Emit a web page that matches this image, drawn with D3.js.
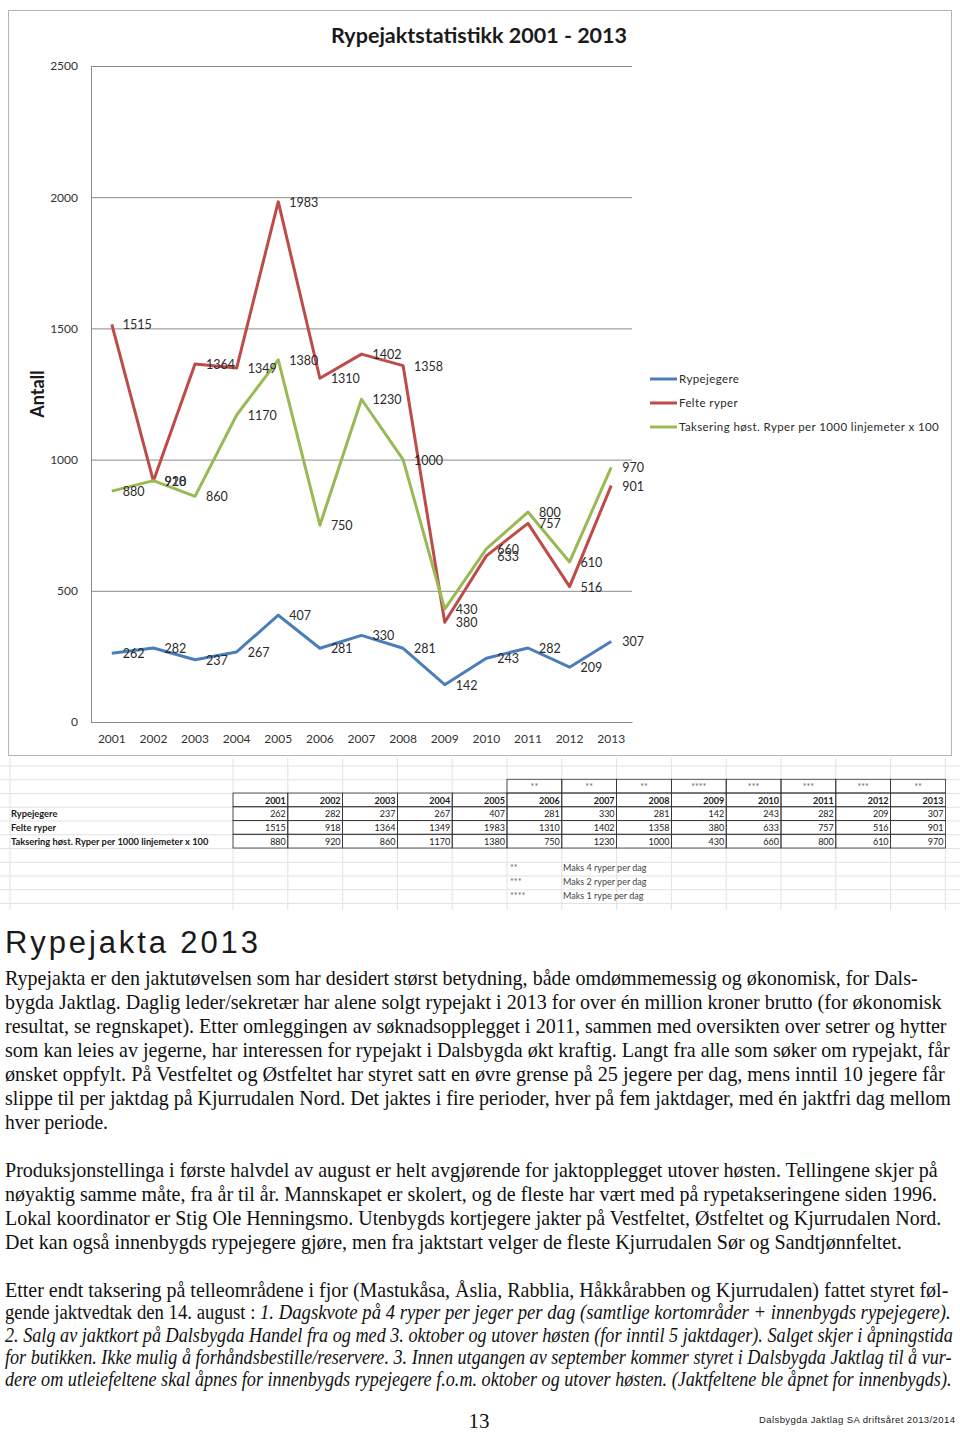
<!DOCTYPE html>
<html>
<head>
<meta charset="utf-8">
<script src="https://cdn.jsdelivr.net/npm/d3@7/dist/d3.min.js"></script>
<style>
  body { margin: 0; background: #fff; }
  svg { display: block; }
</style>
</head>
<body>
<svg id="page"></svg>
<script>
// chart data
const years = ["2001", "2002", "2003", "2004", "2005", "2006", "2007", "2008", "2009", "2010", "2011", "2012", "2013"];
const rypejegere = [262, 282, 237, 267, 407, 281, 330, 281, 142, 243, 282, 209, 307];
const felteRyper = [1515, 918, 1364, 1349, 1983, 1310, 1402, 1358, 380, 633, 757, 516, 901];
const taksering = [880, 920, 860, 1170, 1380, 750, 1230, 1000, 430, 660, 800, 610, 970];
const seriesNames = ["Rypejegere", "Felte ryper", "Taksering høst. Ryper per 1000 linjemeter x 100"];
const seriesColors = ["#4a7ebb", "#be4b48", "#98b954"];
const yTicks = [0, 500, 1000, 1500, 2000, 2500];
const kvoteMarks = ["", "", "", "", "", "**", "**", "**", "****", "***", "***", "***", "**"];
const noteMarks = ["**", "***", "****"];
const noteTexts = ["Maks 4 ryper per dag", "Maks 2 ryper per dag", "Maks 1 rype per dag"];

// article text, one entry per printed line: [segments, width]
const para1 = [
  [[["Rypejakta er den jaktutøvelsen som har desidert størst betydning, både omdømmemessig og økonomisk, for Dals-", 0]], 913],
  [[["bygda Jaktlag. Daglig leder/sekretær har alene solgt rypejakt i 2013 for over én million kroner brutto (for økonomisk", 0]], 937],
  [[["resultat, se regnskapet). Etter omleggingen av søknadsopplegget i 2011, sammen med oversikten over setrer og hytter", 0]], 942],
  [[["som kan leies av jegerne, har interessen for rypejakt i Dalsbygda økt kraftig. Langt fra alle som søker om rypejakt, får", 0]], 945],
  [[["ønsket oppfylt. På Vestfeltet og Østfeltet har styret satt en øvre grense på 25 jegere per dag, mens inntil 10 jegere får", 0]], 940],
  [[["slippe til per jaktdag på Kjurrudalen Nord. Det jaktes i fire perioder, hver på fem jaktdager, med én jaktfri dag mellom", 0]], 946],
  [[["hver periode.", 0]], 103]
];
const para2 = [
  [[["Produksjonstellinga i første halvdel av august er helt avgjørende for jaktopplegget utover høsten. Tellingene skjer på", 0]], 933],
  [[["nøyaktig samme måte, fra år til år. Mannskapet er skolert, og de fleste har vært med på rypetakseringene siden 1996.", 0]], 932],
  [[["Lokal koordinator er Stig Ole Henningsmo. Utenbygds kortjegere jakter på Vestfeltet, Østfeltet og Kjurrudalen Nord.", 0]], 937],
  [[["Det kan også innenbygds rypejegere gjøre, men fra jaktstart velger de fleste Kjurrudalen Sør og Sandtjønnfeltet.", 0]], 897]
];
const para3 = [
  [[["Etter endt taksering på telleområdene i fjor (Mastukåsa, Åslia, Rabblia, Håkkårabben og Kjurrudalen) fattet styret føl-", 0]], 944],
  [[["gende jaktvedtak den 14. august : ", 0], ["1. Dagskvote på 4 ryper per jeger per dag (samtlige kortområder + innenbygds rypejegere).", 1]], 946],
  [[["2. Salg av jaktkort på Dalsbygda Handel fra og med 3. oktober og utover høsten (for inntil 5 jaktdager). Salget skjer i åpningstida", 1]], 948],
  [[["for butikken. Ikke mulig å forhåndsbestille/reservere. 3. Innen utgangen av september kommer styret i Dalsbygda Jaktlag til å vur-", 1]], 947],
  [[["dere om utleiefeltene skal åpnes for innenbygds rypejegere f.o.m. oktober og utover høsten. (Jaktfeltene ble åpnet for innenbygds).", 1]], 947]
];

const width = 960, height = 1432;
const chartFont = "Lato, 'Open Sans', sans-serif";
const serif = "'Liberation Serif', 'DejaVu Serif', serif";

const svg = d3.select("#page")
    .attr("width", width)
    .attr("height", height)
    .attr("viewBox", [0, 0, width, height]);

// ---- spreadsheet grid behind the table ----
const colX0 = 233, colW = 54.8, rowH = 13.75;
const grid = svg.append("g").attr("stroke", "#e2e2e2").attr("stroke-width", 1);
d3.range(11).forEach(k => {
    grid.append("line").attr("x1", 0).attr("x2", width)
        .attr("y1", 766 + k * rowH).attr("y2", 766 + k * rowH);
});
[10].concat(d3.range(14).map(k => colX0 + k * colW)).forEach(xv => {
    grid.append("line").attr("x1", xv).attr("x2", xv).attr("y1", 758).attr("y2", 910);
});

// ---- chart box ----
svg.append("rect")
    .attr("x", 8.5).attr("y", 10.5).attr("width", 943).attr("height", 745)
    .attr("fill", "#fff").attr("stroke", "#b5b5b5");

svg.append("text")
    .attr("x", 479).attr("y", 43)
    .attr("text-anchor", "middle")
    .attr("font-family", chartFont).attr("font-weight", "bold").attr("font-size", 21.5)
    .attr("fill", "#1a1a1a")
    .text("Rypejaktstatistikk 2001 - 2013");

svg.append("text")
    .attr("transform", "translate(44,394) rotate(-90)")
    .attr("text-anchor", "middle")
    .attr("font-family", chartFont).attr("font-weight", "bold").attr("font-size", 18)
    .attr("fill", "#1a1a1a")
    .text("Antall");

const x = d3.scaleBand().domain(years).range([91, 632]);
const cx = d => x(d) + x.bandwidth() / 2;
const y = d3.scaleLinear().domain([0, 2500]).range([722, 66]);

svg.append("g")
    .attr("transform", "translate(91,0)")
    .call(d3.axisLeft(y).tickValues(yTicks).tickFormat(d3.format("d"))
        .tickSize(-541).tickSizeOuter(0).tickPadding(13))
    .call(g => g.select(".domain").attr("stroke", "#8a8a8a"))
    .call(g => g.selectAll(".tick line").attr("stroke", "#8a8a8a"))
    .call(g => g.selectAll(".tick text")
        .attr("font-family", chartFont).attr("font-size", 12).attr("fill", "#333"));

svg.append("g")
    .attr("transform", "translate(0,722)")
    .call(d3.axisBottom(x).tickSize(0).tickPadding(12))
    .call(g => g.select(".domain").attr("stroke", "#8a8a8a"))
    .call(g => g.selectAll(".tick text")
        .attr("font-family", chartFont).attr("font-size", 12).attr("fill", "#333"));

const series = [rypejegere, felteRyper, taksering];
const line = d3.line()
    .x((d, i) => cx(years[i]))
    .y(d => y(d));

series.forEach((vals, s) => {
    svg.append("path")
        .datum(vals)
        .attr("fill", "none")
        .attr("stroke", seriesColors[s])
        .attr("stroke-width", 3)
        .attr("stroke-linejoin", "round")
        .attr("d", line);
});

series.forEach(vals => {
    svg.append("g")
        .selectAll("text")
        .data(vals)
        .join("text")
        .attr("x", (d, i) => cx(years[i]) + 11)
        .attr("y", d => y(d) + 5)
        .attr("font-family", chartFont).attr("font-size", 12.5)
        .attr("fill", "#2a2a2a")
        .text(d => d);
});

// legend
const legend = svg.append("g")
    .selectAll("g")
    .data(seriesNames)
    .join("g")
    .attr("transform", (d, i) => `translate(650,${379 + i * 24})`);
legend.append("line")
    .attr("x1", 0).attr("x2", 27)
    .attr("stroke", (d, i) => seriesColors[i]).attr("stroke-width", 3);
legend.append("text")
    .attr("x", 29).attr("y", 4)
    .attr("font-family", chartFont).attr("font-size", 11.5)
    .attr("letter-spacing", 0.4)
    .attr("fill", "#2a2a2a")
    .text(d => d);

// ---- table ----
const tbl = svg.append("g").attr("font-family", chartFont).attr("font-size", 9).attr("fill", "#1a1a1a");
const rowTop = 793;

// quota marks above 2006-2013
const markCols = kvoteMarks.map((m, i) => ({m, i})).filter(d => d.m !== "");
tbl.selectAll("rect.mark")
    .data(markCols)
    .join("rect")
    .attr("x", d => colX0 + d.i * colW).attr("y", rowTop - rowH)
    .attr("width", colW).attr("height", rowH)
    .attr("fill", "none").attr("stroke", "#333").attr("stroke-width", 0.8);
tbl.selectAll("text.mark")
    .data(markCols)
    .join("text")
    .attr("x", d => colX0 + (d.i + 0.5) * colW).attr("y", rowTop - 3)
    .attr("text-anchor", "middle").attr("fill", "#666")
    .text(d => d.m);

const rows = [years, rypejegere, felteRyper, taksering];
rows.forEach((vals, r) => {
    vals.forEach((v, i) => {
        tbl.append("rect")
            .attr("x", colX0 + i * colW).attr("y", rowTop + r * rowH)
            .attr("width", colW).attr("height", rowH)
            .attr("fill", "none").attr("stroke", "#333").attr("stroke-width", 0.8);
        tbl.append("text")
            .attr("x", colX0 + (i + 1) * colW - 2).attr("y", rowTop + r * rowH + 10.5)
            .attr("text-anchor", "end")
            .attr("font-weight", r === 0 ? "bold" : "normal")
            .text(v);
    });
});
seriesNames.forEach((name, r) => {
    tbl.append("text")
        .attr("x", 11).attr("y", rowTop + (r + 1) * rowH + 10.5)
        .attr("font-weight", "bold").attr("font-size", 9.3)
        .text(name);
});
noteMarks.forEach((m, k) => {
    tbl.append("text").attr("x", 510).attr("y", 871 + k * rowH).attr("fill", "#666").text(m);
    tbl.append("text").attr("x", 563).attr("y", 871 + k * rowH).attr("fill", "#444").text(noteTexts[k]);
});

// ---- article text ----
svg.append("text")
    .attr("x", 5).attr("y", 953)
    .attr("font-family", "'Liberation Sans', Arial, sans-serif").attr("font-size", 31)
    .attr("textLength", 253).attr("lengthAdjust", "spacing")
    .attr("fill", "#1a1a1a")
    .text("Rypejakta 2013");

// each printed line is squeezed horizontally to the width it has in the print
function paragraph(lines, top, step, size) {
    lines.forEach(([segs, w], k) => {
        const t = svg.append("text")
            .attr("x", 0).attr("y", 0)
            .attr("font-family", serif).attr("font-size", size)
            .attr("fill", "#111");
        segs.forEach(([s, it]) => {
            t.append("tspan").attr("font-style", it ? "italic" : "normal").text(s);
        });
        const natural = t.node().getComputedTextLength();
        t.attr("transform", `translate(5,${top + k * step}) scale(${w / natural},1)`);
    });
}
paragraph(para1, 985, 24, 21);
paragraph(para2, 1177, 24, 21);
paragraph(para3, 1297, 22.3, 20);

svg.append("text")
    .attr("x", 479).attr("y", 1428)
    .attr("text-anchor", "middle")
    .attr("font-family", serif).attr("font-size", 21)
    .attr("fill", "#111")
    .text("13");

svg.append("text")
    .attr("x", 759).attr("y", 1423)
    .attr("font-family", "'Liberation Sans', Arial, sans-serif").attr("font-size", 9.5)
    .attr("textLength", 196).attr("lengthAdjust", "spacing")
    .attr("fill", "#222")
    .text("Dalsbygda Jaktlag SA driftsåret 2013/2014");
</script>
</body>
</html>
